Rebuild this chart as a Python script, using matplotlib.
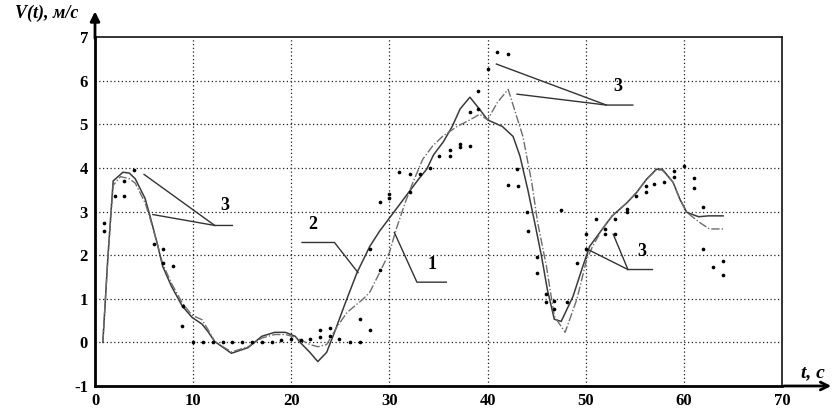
import matplotlib
matplotlib.use("Agg")
import matplotlib.pyplot as plt

plt.rcParams['font.family'] = ['Liberation Serif', 'DejaVu Serif']

# curve 1 (slower rise, spike near 42 s)
t1 = [0.8, 1.3, 1.85, 2.6, 3.5, 4.1, 5.1, 5.6, 6.3, 6.9,
      7.8, 8.9, 9.9, 10.9, 11.5, 12.2, 13.9, 15.6, 17.0, 18.3,
      19.4, 20.4, 21.9, 22.7, 23.6, 24.7, 25.7, 27.3, 28.0, 29.0,
      30.0, 30.7, 31.6, 32.4, 33.4, 34.4, 35.4, 36.9, 38.2, 39.2,
      40.0, 41.0, 42.1, 43.6, 44.5, 45.1, 46.0, 46.8, 47.9, 49.1,
      50.1, 50.7, 51.7, 52.7, 54.2, 55.2, 56.2, 57.2, 57.8, 58.9,
      59.6, 60.3, 61.6, 62.6, 64.0]
v1 = [0, 1.9, 3.6, 3.8, 3.75, 3.65, 3.2, 2.85, 2.3, 1.8,
      1.35, 0.9, 0.62, 0.52, 0.3, 0.02, -0.22, -0.1, 0.1, 0.18,
      0.18, 0.12, -0.05, -0.1, -0.05, 0.37, 0.69, 0.99, 1.15, 1.6,
      2.06, 2.6, 3.2, 3.67, 4.2, 4.5, 4.72, 4.95, 5.1, 5.23,
      5.1, 5.5, 5.8, 4.72, 3.67, 2.75, 1.74, 0.6, 0.23, 0.99,
      1.9, 2.2, 2.6, 2.9, 3.2, 3.44, 3.74, 3.95, 3.95, 3.67,
      3.28, 2.98, 2.75, 2.6, 2.6]

# curve 2 (earlier rise, peak near 38 s)
t2 = [0.8, 1.3, 1.85, 2.85, 3.5, 4.1, 5.1, 5.6, 6.3, 6.9,
      7.8, 8.9, 9.9, 10.9, 11.5, 12.2, 13.9, 15.6, 17.0, 18.3,
      19.4, 20.4, 20.9, 21.9, 22.7, 23.6, 24.4, 25.5, 26.7, 28.0,
      29.0, 30.0, 31.0, 32.0, 33.0, 33.8, 34.5, 35.5, 36.4, 37.2,
      38.2, 39.2, 40.0, 41.5, 42.6, 43.3, 44.1, 44.8, 45.5, 46.1,
      46.8, 47.5, 48.7, 49.7, 50.4, 51.7, 52.7, 54.2, 55.2, 56.2,
      57.2, 57.8, 58.9, 59.6, 60.3, 61.5, 62.5, 64.0]
v2 = [0, 1.9, 3.7, 3.9, 3.88, 3.75, 3.3, 2.9, 2.3, 1.74,
      1.28, 0.83, 0.57, 0.42, 0.25, 0.02, -0.25, -0.12, 0.14, 0.23,
      0.23, 0.14, 0.0, -0.23, -0.44, -0.23, 0.23, 0.9, 1.6, 2.2,
      2.55, 2.85, 3.15, 3.45, 3.75, 3.97, 4.3, 4.6, 4.95, 5.35,
      5.62, 5.34, 5.1, 4.95, 4.72, 4.27, 3.5, 2.75, 1.97, 1.2,
      0.53, 0.48, 1.05, 1.74, 2.2, 2.6, 2.9, 3.2, 3.44, 3.74,
      3.97, 3.97, 3.67, 3.28, 2.98, 2.88, 2.9, 2.9]

# measured points (3)
t_pts = [0.9, 0.9, 2.0, 3.0, 3.0, 4.0, 6.0, 6.9, 6.9, 7.9, 9.0, 8.9,
         10, 11, 12, 13, 14, 15, 16, 17, 18, 19, 20, 21, 21.9,
         22.9, 22.9, 23.9, 23.9, 24.9, 26, 27, 27, 28, 28, 29, 29,
         30, 30, 31, 32.1, 32.1, 33.1, 34.1, 35.1, 36.2, 36.2, 37.2, 37.2,
         38.2, 38.2, 39, 39, 40, 41, 42.1, 43, 42.1, 43.1, 44, 44.1,
         45, 45, 46, 46, 46.8, 46.8, 48.1, 49.1, 50, 50, 51, 52, 52,
         53, 53, 54.2, 54.2, 55.1, 56.1, 56.1, 57, 58, 59, 59, 60,
         61, 61, 62, 62, 63, 64, 64, 47.5]
v_pts = [2.73, 2.55, 3.35, 3.69, 3.35, 3.95, 2.25, 2.13, 1.83, 1.74, 0.83, 0.37,
         0, 0, 0, 0, 0, 0, 0, 0, 0, 0.05, 0.07, 0.05, 0.07,
         0.28, 0.12, 0.32, 0.15, 0.07, 0.02, 0, 0.53, 0.28, 2.13, 1.67, 3.21,
         3.4, 3.3, 3.9, 3.85, 3.44, 3.85, 4.0, 4.27, 4.42, 4.27, 4.47, 4.55,
         4.5, 5.27, 5.76, 5.34, 6.26, 6.65, 6.6, 3.97, 3.6, 3.58, 2.98, 2.55,
         1.95, 1.6, 1.1, 0.93, 0.94, 0.76, 0.92, 1.83, 2.48, 2.13, 2.82, 2.59, 2.48,
         2.82, 2.48, 2.98, 3.05, 3.35, 3.44, 3.58, 3.62, 3.67, 3.8, 3.92, 4.04,
         3.76, 3.53, 3.1, 2.13, 1.72, 1.86, 1.54, 3.03]

# leader lines: (label, text position, list of polylines)
leaders = [
    ("3", (13.2, 2.95), [[(5.0, 3.85), (12.2, 2.68), (14.0, 2.68)],
                          [(5.9, 2.93), (12.2, 2.68)]]),
    ("2", (22.2, 2.5), [[(21.1, 2.29), (24.4, 2.29), (26.8, 1.6)]]),
    ("1", (34.3, 1.58), [[(30.5, 2.52), (32.8, 1.38), (35.8, 1.38)]]),
    ("3", (53.3, 5.66), [[(40.9, 6.38), (52.1, 5.44), (54.8, 5.44)],
                          [(43.0, 5.69), (52.1, 5.44)]]),
    ("3", (55.7, 1.88), [[(50.4, 2.11), (54.3, 1.67), (56.8, 1.67)],
                          [(52.8, 2.48), (54.3, 1.67)]]),
]

x_ticks = [0, 10, 20, 30, 40, 50, 60, 70]
y_ticks = [-1, 0, 1, 2, 3, 4, 5, 6, 7]

fig = plt.figure(figsize=(8.36, 4.16), dpi=100)
ax = fig.add_axes([95 / 836, 1 - 386 / 416, 687 / 836, 349 / 416])
ax.set_xlim(0, 70)
ax.set_ylim(-1, 7)

# grid
for x in x_ticks[1:-1]:
    ax.axvline(x, color="#222222", lw=0.9, ls=(0, (1, 2)), zorder=1)
for y in y_ticks[1:-1]:
    ax.axhline(y, color="#222222", lw=0.9, ls=(0, (1, 2)), zorder=1)

ax.plot(t2, v2, color="#3a3a3a", lw=1.1, zorder=3)
ax.plot(t1, v1, color="#6e6e6e", lw=1.0, ls=(0, (6, 1.5, 1, 1.5)), zorder=3)
ax.scatter(t_pts, v_pts, s=7, color="black", zorder=4, linewidths=0)

for lab, pos, lines in leaders:
    for seg in lines:
        xs = [p[0] for p in seg]
        ys = [p[1] for p in seg]
        ax.plot(xs, ys, color="#333333", lw=1.0, zorder=5)
    ax.text(pos[0], pos[1], lab, fontsize=13, fontweight="bold",
            ha="center", va="bottom", zorder=6)

# spines
for s in ("top", "right"):
    ax.spines[s].set_linewidth(1.2)
    ax.spines[s].set_color("#111111")
for s in ("left", "bottom"):
    ax.spines[s].set_linewidth(2.0)

# axis arrows
ax.annotate("", xy=(0, 7.65), xytext=(0, 6.9), annotation_clip=False,
            arrowprops=dict(arrowstyle="-|>", color="black", lw=2, mutation_scale=14))
ax.annotate("", xy=(75.3, -1), xytext=(69.9, -1), annotation_clip=False,
            arrowprops=dict(arrowstyle="->", color="black", lw=2, mutation_scale=14))

ax.set_xticks(x_ticks)
ax.set_yticks(y_ticks)
ax.set_xticklabels([str(v) for v in x_ticks], fontsize=12, fontweight="bold")
ax.set_yticklabels([str(v) for v in y_ticks], fontsize=12, fontweight="bold")
ax.tick_params(length=0, pad=5)

fig.text(0.018, 0.967, "V(t), м/с", fontsize=13, fontweight="bold",
         fontstyle="italic", va="center", ha="left")
fig.text(0.958, 0.103, "t, c", fontsize=14, fontweight="bold",
         fontstyle="italic", va="center", ha="left")

fig.savefig("out.png", dpi=100)
